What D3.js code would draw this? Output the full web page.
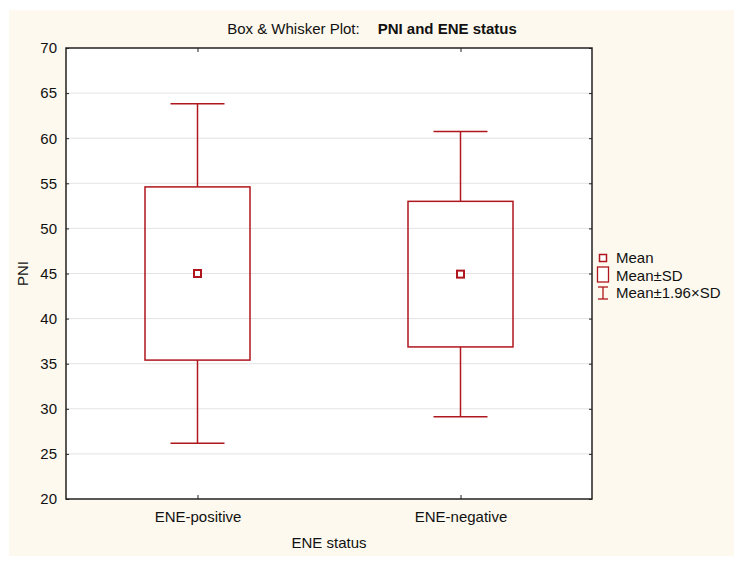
<!DOCTYPE html>
<html>
<head>
<meta charset="utf-8">
<script src="https://cdn.jsdelivr.net/npm/d3@7"></script>
<style>
  body { margin: 0; background: #fff; }
  text { font-family: "Liberation Sans", Arial, sans-serif; fill: #111; }
</style>
</head>
<body>
<div id="chart"></div>
<script>
// data
const categories = ["ENE-positive", "ENE-negative"];
const means = [45.0, 44.93];
const sds = [9.6, 8.07];
const yTicks = [20, 25, 30, 35, 40, 45, 50, 55, 60, 65, 70];

const W = 744, H = 562;
const margin = {top: 48, right: 152, bottom: 63, left: 66};
const width = W - margin.left - margin.right;
const height = H - margin.top - margin.bottom;
const red = "#b0161e";
const fs = "15px";

const svg = d3.select("#chart").append("svg")
    .attr("width", W)
    .attr("height", H);

// cream background
svg.append("rect")
    .attr("x", 9).attr("y", 10)
    .attr("width", 725).attr("height", 546)
    .attr("fill", "#fdf9ee");

const g = svg.append("g")
    .attr("transform", `translate(${margin.left},${margin.top})`);

const x = d3.scalePoint().domain(categories).range([0, width]).padding(0.5);
const y = d3.scaleLinear().domain([20, 70]).range([height, 0]);

g.append("rect")
    .attr("width", width).attr("height", height)
    .attr("fill", "#fff");

// grid
g.selectAll(".grid")
    .data(yTicks.filter(t => t > 20 && t < 70))
    .join("line")
    .attr("x1", 0).attr("x2", width)
    .attr("y1", d => y(d)).attr("y2", d => y(d))
    .attr("stroke", "#e3e3e3").attr("stroke-width", 1);

// axes
const yAxis = g.append("g")
    .call(d3.axisLeft(y).tickValues(yTicks).tickSize(-3).tickPadding(9));
const yAxisR = g.append("g").attr("transform", `translate(${width},0)`)
    .call(d3.axisRight(y).tickValues(yTicks).tickSize(-3).tickFormat(""));
const xAxis = g.append("g").attr("transform", `translate(0,${height})`)
    .call(d3.axisBottom(x).tickSize(-4).tickPadding(10));
const xAxisT = g.append("g")
    .call(d3.axisTop(x).tickSize(-4).tickFormat(""));

[yAxis, yAxisR, xAxis, xAxisT].forEach(a => {
    a.select(".domain").remove();
    a.selectAll("line").attr("stroke", "#222");
    a.selectAll("text").style("font-size", fs)
        .style("font-family", "'Liberation Sans', Arial, sans-serif").attr("fill", "#111");
});
xAxis.selectAll("text").attr("dy", "0.85em");

g.append("rect")
    .attr("width", width).attr("height", height)
    .attr("fill", "none").attr("stroke", "#222").attr("stroke-width", 1.5);

// boxes and whiskers
const stats = categories.map((c, i) => ({
    cat: c, mean: means[i], sd: sds[i]
}));
const boxW = 105, capW = 54, meanS = 7;

const grp = g.selectAll(".box").data(stats).join("g")
    .attr("transform", d => `translate(${x(d.cat)},0)`);

grp.append("line")
    .attr("x1", 0).attr("x2", 0)
    .attr("y1", d => y(d.mean + 1.96 * d.sd)).attr("y2", d => y(d.mean + d.sd))
    .attr("stroke", red).attr("stroke-width", 1.5);
grp.append("line")
    .attr("x1", 0).attr("x2", 0)
    .attr("y1", d => y(d.mean - d.sd)).attr("y2", d => y(d.mean - 1.96 * d.sd))
    .attr("stroke", red).attr("stroke-width", 1.5);
grp.append("line")
    .attr("x1", -capW / 2).attr("x2", capW / 2)
    .attr("y1", d => y(d.mean + 1.96 * d.sd)).attr("y2", d => y(d.mean + 1.96 * d.sd))
    .attr("stroke", red).attr("stroke-width", 1.5);
grp.append("line")
    .attr("x1", -capW / 2).attr("x2", capW / 2)
    .attr("y1", d => y(d.mean - 1.96 * d.sd)).attr("y2", d => y(d.mean - 1.96 * d.sd))
    .attr("stroke", red).attr("stroke-width", 1.5);
grp.append("rect")
    .attr("x", -boxW / 2).attr("width", boxW)
    .attr("y", d => y(d.mean + d.sd))
    .attr("height", d => y(d.mean - d.sd) - y(d.mean + d.sd))
    .attr("fill", "none").attr("stroke", red).attr("stroke-width", 1.5);
grp.append("rect")
    .attr("x", -meanS / 2).attr("width", meanS)
    .attr("y", d => y(d.mean) - meanS / 2).attr("height", meanS)
    .attr("fill", "#fff").attr("stroke", red).attr("stroke-width", 2);

// title
const title = svg.append("text")
    .attr("x", 372).attr("y", 34)
    .attr("text-anchor", "middle")
    .style("font-size", fs);
title.append("tspan").text("Box & Whisker Plot:");
title.append("tspan").attr("dx", 18).style("font-weight", "bold").text("PNI and ENE status");

// axis titles
svg.append("text")
    .attr("transform", `translate(28,${margin.top + height / 2}) rotate(-90)`)
    .attr("text-anchor", "middle")
    .style("font-size", fs)
    .text("PNI");
svg.append("text")
    .attr("x", margin.left + width / 2).attr("y", 548)
    .attr("text-anchor", "middle")
    .style("font-size", fs)
    .text("ENE status");

// legend
const lg = svg.append("g").attr("transform", "translate(603,0)");
lg.append("rect").attr("x", -3.5).attr("y", 254.5).attr("width", 7).attr("height", 7)
    .attr("fill", "#fff").attr("stroke", red).attr("stroke-width", 1.5);
lg.append("rect").attr("x", -5.5).attr("y", 267).attr("width", 11).attr("height", 15)
    .attr("fill", "#fff").attr("stroke", red).attr("stroke-width", 1.3);
lg.append("line").attr("x1", 0).attr("x2", 0).attr("y1", 287).attr("y2", 299)
    .attr("stroke", red).attr("stroke-width", 1.3);
lg.append("line").attr("x1", -5).attr("x2", 5).attr("y1", 287).attr("y2", 287)
    .attr("stroke", red).attr("stroke-width", 1.3);
lg.append("line").attr("x1", -5).attr("x2", 5).attr("y1", 299).attr("y2", 299)
    .attr("stroke", red).attr("stroke-width", 1.3);
const legendLabels = ["Mean", "Mean±SD", "Mean±1.96×SD"];
lg.selectAll(".lt").data(legendLabels).join("text")
    .attr("x", 13).attr("y", (d, i) => 263 + i * 17.5)
    .style("font-size", fs)
    .text(d => d);
</script>
</body>
</html>
